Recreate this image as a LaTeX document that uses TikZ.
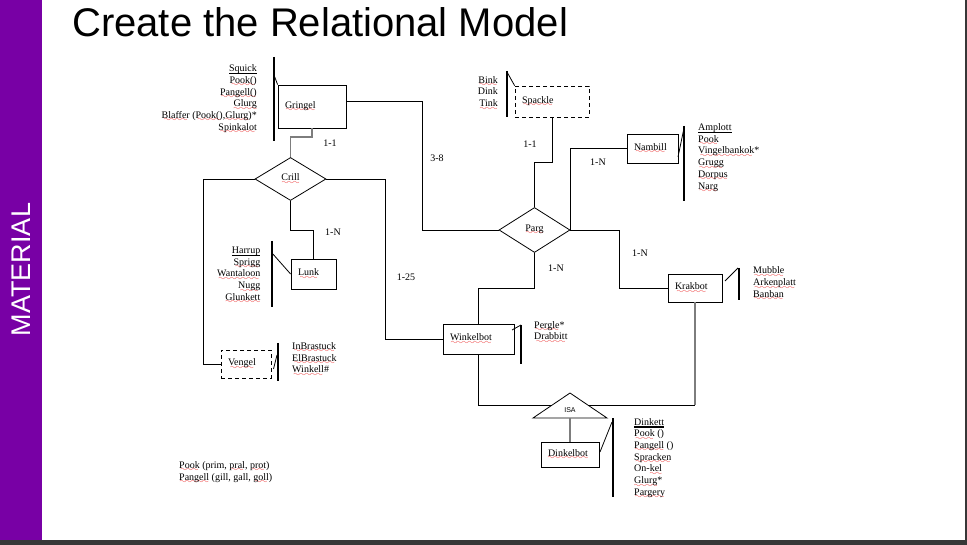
\documentclass[tikz,border=0pt]{standalone}
\usepackage{fontspec}
\setmainfont{Liberation Serif}
\newfontfamily\arialf{Liberation Sans}
\usetikzlibrary{shapes.geometric}
\definecolor{matpurple}{RGB}{120,0,165}
\definecolor{edgegray}{RGB}{55,55,55}
\definecolor{lgray}{RGB}{125,125,125}
\definecolor{sqred}{RGB}{235,30,30}
\font\wavefont=lasy8\relax
\newcommand\sq[1]{\setbox0\hbox{#1}\rlap{\color{sqred}\lower3.4pt\hbox to \wd0{\cleaders\hbox{\wavefont\char58}\hfil}}\box0\relax}
\newcommand\keyu[1]{\setbox0\hbox{#1}\rlap{\rule[-2.6pt]{\wd0}{1.4pt}}\box0\relax}
\tikzset{
  dtext/.style={font=\fontsize{10}{11.7}\selectfont},
  ebox/.style={draw, line width=0.8pt, rectangle, inner xsep=7pt, inner ysep=0pt, align=left, dtext},
  wbox/.style={ebox, dash pattern=on 4pt off 3pt},
  rel/.style={draw, diamond, line width=0.8pt, inner sep=0pt, dtext},
  link/.style={line width=0.8pt},
  glink/.style={line width=1.2pt, draw=lgray},
  attrR/.style={dtext, align=right, inner sep=0pt, anchor=north east},
  attrL/.style={dtext, align=left, inner sep=0pt, anchor=north west},
  abar/.style={line width=1.4pt},
  aslash/.style={line width=0.8pt},
  card/.style={dtext, inner sep=0pt},
}
\begin{document}
\begin{tikzpicture}[x=1pt,y=-1pt]
\useasboundingbox (0,0) rectangle (967,545);
\fill[white] (0,0) rectangle (967,545);
\fill[matpurple] (0,0) rectangle (42,540);
\fill[edgegray] (0,540) rectangle (967,545);
\fill[edgegray] (964.5,0) rectangle (967,545);
\node[white, rotate=90, font=\arialf\fontsize{27}{30}\selectfont, inner sep=0pt] (mat) at (21.5,269.5) {MATERIAL};
\node[anchor=base west, font=\arialf\fontsize{40}{46}\selectfont, inner sep=0pt] (title) at (72,37) {Create the Relational Model};

% entities
\node[ebox, text width=54pt, minimum height=43pt] (gringel) at (312,106.5) {\sq{Gringel}};
\node[wbox, text width=60pt, minimum height=31pt] (spackle) at (552,101.5) {\sq{Spackle}};
\node[ebox, text width=37pt, minimum height=29pt] (nambill) at (652.5,148.5) {\sq{Nambill}};
\node[ebox, text width=31pt, minimum height=30pt] (lunk) at (313.5,274) {\sq{Lunk}};
\node[ebox, text width=40pt, minimum height=28pt] (krakbot) at (695,288) {\sq{Krakbot}};
\node[wbox, text width=36pt, minimum height=28pt] (vengel) at (246,364) {\sq{Vengel}};
\node[ebox, text width=57pt, minimum height=30pt] (winkel) at (478.5,339) {\sq{Winkelbot}};
\node[ebox, text width=44pt, minimum height=25pt] (dinkel) at (570,454.5) {\sq{Dinkelbot}};

% relationships
\node[rel, minimum width=71pt, minimum height=43pt, aspect=1.65] (crill) at (290.5,179) {\sq{Crill}};
\node[rel, minimum width=71pt, minimum height=45pt, aspect=1.58] (parg) at (534.5,230) {\sq{Parg}};

% connectors
\draw[glink] (gringel.south) -- (312,137) -| (crill.north);
\draw[link] (crill.west) -- (203,179) |- (vengel.west);
\draw[link] (crill.east) -- (385,179) |- (winkel.west);
\draw[link] (crill.south) -- (290.5,230) -| (lunk.north);
\draw[link] (gringel.east |- 0,101) -- (422,101) |- (parg.west);
\draw[link] (spackle.south) -- (552,162) -| (parg.north);
\draw[link] (parg.east) |- (nambill.west);
\draw[link] (parg.east) -- (619,230) |- (krakbot.west);
\draw[link] (parg.south) -- (534.5,288) -| (winkel.north);
\coordinate (isaline) at (695,405);
\draw[link] (winkel.south) |- (isaline);
\draw[glink] (krakbot.south) -- (isaline);

% ISA
\coordinate (isatop) at (570,393);
\coordinate (isal) at (533,418);
\coordinate (isar) at (607,418);
\coordinate (isab) at (570,418);
\draw[link, fill=white] (isal) -- (isatop) -- (isar) -- cycle;
\node[font=\arialf\fontsize{7}{8}\selectfont, inner sep=0pt] (isa) at (570,410.5) {ISA};
\draw[glink] (isab) -- (dinkel.north);

% cardinalities
\node[card] (c1) at (330,143) {1-1};
\node[card] (c2) at (437,158) {3-8};
\node[card] (c3) at (530,144) {1-1};
\node[card] (c4) at (598,162) {1-N};
\node[card] (c5) at (333,232) {1-N};
\node[card] (c6) at (406,277) {1-25};
\node[card] (c7) at (556,268) {1-N};
\node[card] (c8) at (640,253) {1-N};

% attribute bars
\draw[abar] (274,57) -- (274,141);
\draw[aslash] (274,75) -- (gringel.north west);
\draw[abar] (507,71) -- (507,117);
\draw[aslash] (507,72) -- (spackle.north west);
\draw[abar] (684,126) -- (684,201);
\draw[aslash] (678,157) -- (684,128);
\draw[abar] (272,241) -- (272,307);
\draw[aslash] (272,253) -- (lunk.west);
\draw[abar] (278,343) -- (278,381);
\draw[aslash] (277,355) -- (273.5,369);
\draw[abar] (739,268) -- (739,300);
\draw[aslash] (725,281) -- (738,268);
\draw[abar] (521,325) -- (521,364);
\draw[aslash] (512,330) -- (521,325);
\draw[abar] (613,418) -- (613,497);
\draw[aslash] (600,452) -- (612,422);

% attribute lists
\node[attrR] (agr) at (257,64.6) {\keyu{Squick}\\ \sq{Pook()}\\ \sq{Pangell()}\\ \sq{Glurg}\\ \sq{Blaffer} (\sq{Pook()},\sq{Glurg})*\\ \sq{Spinkalot}};
\node[attrR] (asp) at (498,76.1) {\sq{Bink}\\ Dink\\ \sq{Tink}};
\node[attrL] (ana) at (698,123.4) {\keyu{Amplott}\\ \sq{Pook}\\ \sq{Vingelbankok}*\\ \sq{Grugg}\\ \sq{Dorpus}\\ \sq{Narg}};
\node[attrR] (alu) at (260.5,246.8) {\keyu{Harrup}\\ \sq{Sprigg}\\ \sq{Wantaloon}\\ \sq{Nugg}\\ \sq{Glunkett}};
\node[attrL] (akr) at (753,266.8) {\sq{Mubble}\\ \sq{Arkenplatt}\\ \sq{Banban}};
\node[attrL] (ave) at (292,342.4) {\sq{InBrastuck}\\ \sq{ElBrastuck}\\ \sq{Winkell}\#};
\node[attrL] (awi) at (534,321) {\sq{Pergle}*\\ \sq{Drabbitt}};
\node[attrL] (adi) at (634,418) {\keyu{Dinkett}\\ \sq{Pook} ()\\ \sq{Pangell} ()\\ \sq{Spracken}\\ On-\sq{kel}\\ \sq{Glurg}*\\ \sq{Pargery}};
\node[attrL] (note) at (179,461.4) {\sq{Pook} (prim, \sq{pral}, \sq{prot})\\ \sq{Pangell} (gill, gall, \sq{goll})};
\end{tikzpicture}
\end{document}
